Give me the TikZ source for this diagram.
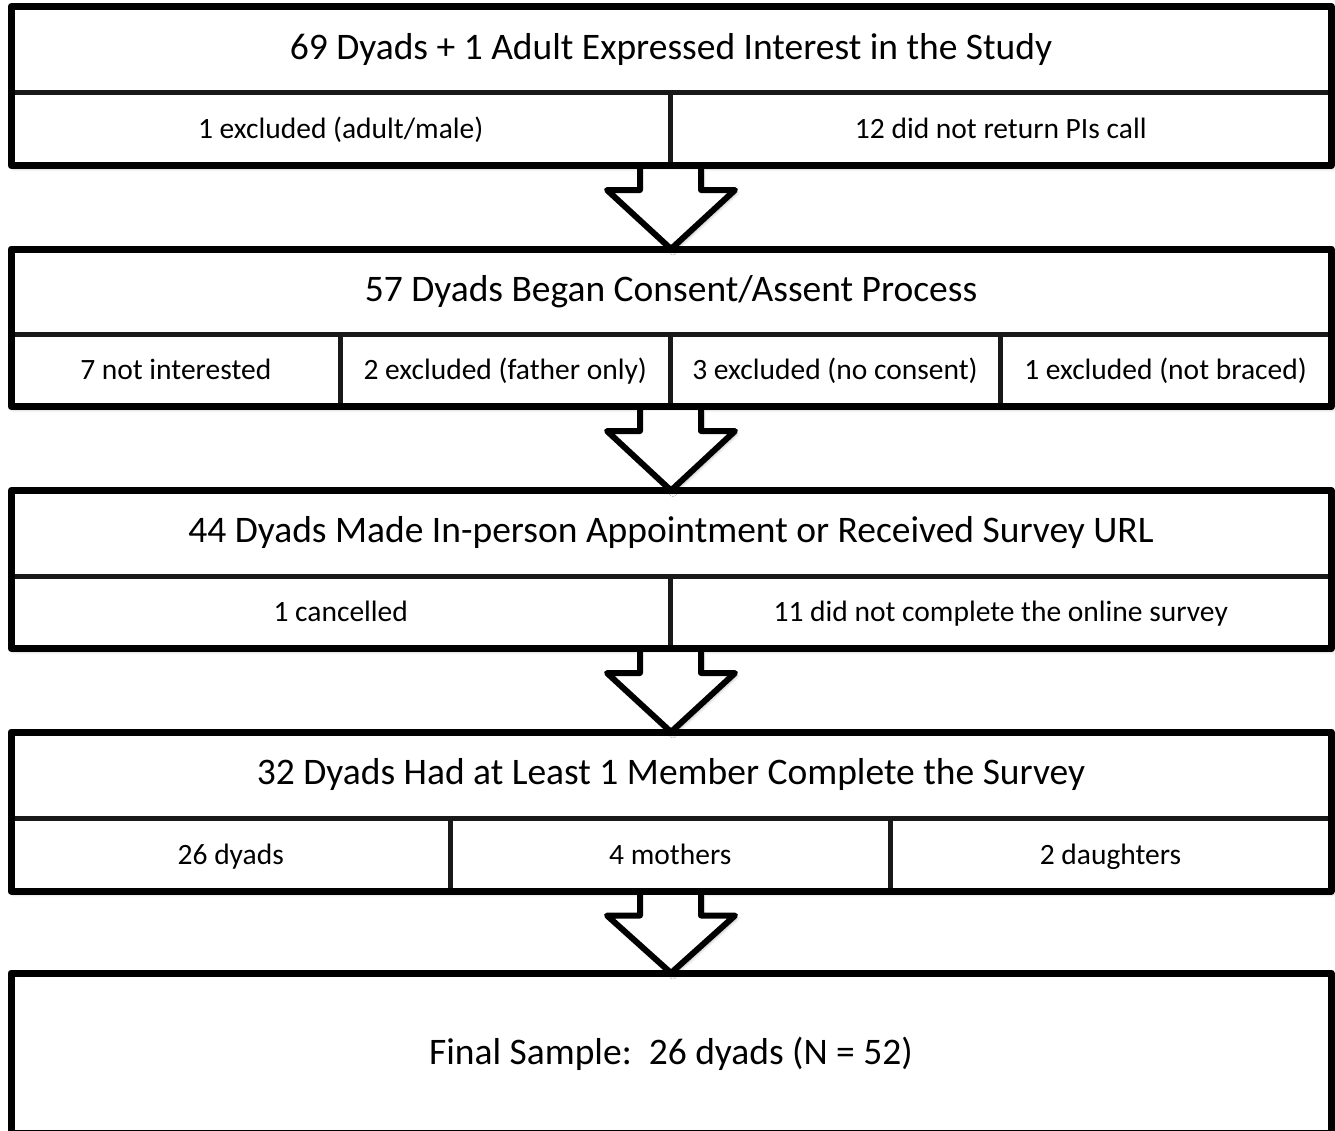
\documentclass[tikz,border=0pt]{standalone}
\usepackage{fontspec}
\setmainfont{Carlito}
\usetikzlibrary{calc,shadows.blur}
\tikzset{
  softshadow/.style={blur shadow={shadow xshift=2pt, shadow yshift=-3pt, shadow blur radius=3pt, shadow opacity=30}},
  framebg/.style={rectangle, fill=white, draw=none, outer sep=0pt, inner sep=0pt, softshadow},
  frameline/.style={draw=black, line width=7pt, line join=round},
  cell/.style={rectangle, draw=black!90, line width=5pt, outer sep=0pt, inner sep=0pt, text height=25pt, text depth=6pt, font=\fontsize{29.5}{35}\selectfont},
  titletext/.style={inner sep=0pt, text height=27pt, text depth=8pt, font=\fontsize{37.5}{45}\selectfont},
  arrowfill/.style={fill=white, softshadow},
  arrowline/.style={draw=black, line width=6pt, line join=round, line cap=round},
}
\begin{document}
\begin{tikzpicture}[x=1pt,y=-1pt]
\useasboundingbox (0,0) rectangle (1335,1130);
% ---------- box 1
\node[framebg, minimum width=1320pt, minimum height=159pt] (f1) at (671,86) {};
\node[cell, minimum width=659.5pt, minimum height=73pt] (c11) at (340.75,129) {1 excluded (adult/male)};
\node[cell, minimum width=660.5pt, minimum height=73pt] (c12) at (1000.75,129) {12 did not return PIs call};
\draw[frameline] (f1.north west) rectangle (f1.south east);
\node[titletext] (t1) at (671,49.5) {69 Dyads + 1 Adult Expressed Interest in the Study};
% ---------- box 2
\node[framebg, minimum width=1320pt, minimum height=157.5pt] (f2) at (671,327.75) {};
\node[cell, minimum width=329.5pt, minimum height=72.5pt] (c21) at (175.75,370.25) {7 not interested};
\node[cell, minimum width=329.5pt, minimum height=72.5pt] (c22) at (505.25,370.25) {2 excluded (father only)};
\node[cell, minimum width=330pt, minimum height=72.5pt] (c23) at (835,370.25) {3 excluded (no consent)};
\node[cell, minimum width=331pt, minimum height=72.5pt] (c24) at (1165.5,370.25) {1 excluded (not braced)};
\draw[frameline] (f2.north west) rectangle (f2.south east);
\node[titletext] (t2) at (671,291.5) {57 Dyads Began Consent/Assent Process};
% ---------- box 3
\node[framebg, minimum width=1320pt, minimum height=158pt] (f3) at (671,569.5) {};
\node[cell, minimum width=659.5pt, minimum height=72.5pt] (c31) at (340.75,612.25) {1 cancelled};
\node[cell, minimum width=660.5pt, minimum height=72.5pt] (c32) at (1000.75,612.25) {11 did not complete the online survey};
\draw[frameline] (f3.north west) rectangle (f3.south east);
\node[titletext] (t3) at (671,533.25) {44 Dyads Made In-person Appointment or Received Survey URL};
% ---------- box 4
\node[framebg, minimum width=1320pt, minimum height=159pt] (f4) at (671,811.5) {};
\node[cell, minimum width=439.5pt, minimum height=73pt] (c41) at (230.75,854.5) {26 dyads};
\node[cell, minimum width=439.5pt, minimum height=73pt] (c42) at (670.25,854.5) {4 mothers};
\node[cell, minimum width=441pt, minimum height=73pt] (c43) at (1110.5,854.5) {2 daughters};
\draw[frameline] (f4.north west) rectangle (f4.south east);
\node[titletext] (t4) at (671,775) {32 Dyads Had at Least 1 Member Complete the Survey};
% ---------- box 5
\node[framebg, minimum width=1320pt, minimum height=160pt] (f5) at (671,1053) {};
\draw[frameline] (f5.north west) rectangle (f5.south east);
\node[titletext] (t5) at (671,1055) {Final Sample:\ \ 26 dyads (N = 52)};
% ---------- arrows
\foreach \a/\b in {f1/f2, f2/f3, f3/f4, f4/f5}{
  \path[arrowfill] ($(\a.south)+(-31,4)$) -- ($(\a.south)+(-31,24.5)$) -- ($(\a.south)+(-64,24.5)$)
     -- (\b.north) -- ($(\a.south)+(64,24.5)$) -- ($(\a.south)+(30,24.5)$) -- ($(\a.south)+(30,4)$) -- cycle;
  \draw[arrowline] ($(\a.south)+(-31,2)$) -- ($(\a.south)+(-31,24.5)$) -- ($(\a.south)+(-64,24.5)$)
     -- (\b.north) -- ($(\a.south)+(64,24.5)$) -- ($(\a.south)+(30,24.5)$) -- ($(\a.south)+(30,2)$);
}
\end{tikzpicture}
\end{document}
